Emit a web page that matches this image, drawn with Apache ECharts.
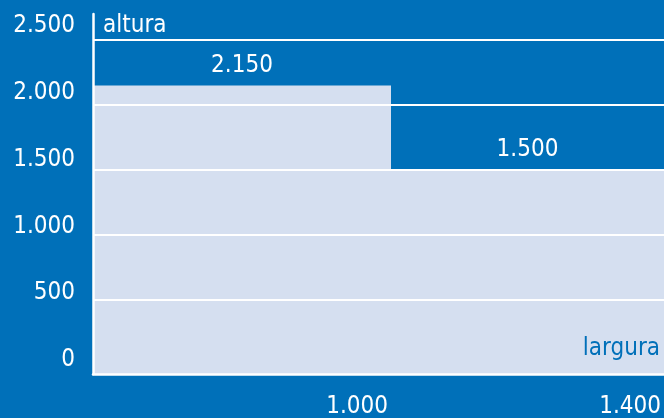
<!DOCTYPE html>
<html>
<head>
<meta charset="utf-8">
<script src="https://cdn.jsdelivr.net/npm/echarts@6/dist/echarts.min.js"></script>
<style>
  html, body { margin: 0; padding: 0; background: #0070b9; }
  #chart { width: 664px; height: 418px; }
</style>
</head>
<body>
<div id="chart"></div>
<script>
// dados
var larguras = [1000, 1400];
var alturas = [2150, 1500];
var rotulosLargura = ['1.000', '1.400'];
var rotulosAltura = ['2.150', '1.500'];
var ticksY = [0, 500, 1000, 1500, 2000, 2500];
var rotulosY = ['0', '500', '1.000', '1.500', '2.000', '2.500'];

var AZUL = '#0070b9';
var CLARO = '#d5dff0';
var FONTE = '"DejaVu Sans Condensed", "Liberation Sans Narrow", sans-serif';

// início acumulado de cada barra
var dados = [];
var x0 = 0;
for (var i = 0; i < larguras.length; i++) {
  dados.push([x0, x0 + larguras[i], alturas[i], i]);
  x0 += larguras[i];
}

var myChart = echarts.init(document.getElementById('chart'));

function renderItem(params, api) {
  var cs = params.coordSys;
  var p0 = api.coord([api.value(0), api.value(2)]);
  var p1 = api.coord([api.value(1), api.value(2)]);
  var base = cs.y + cs.height;
  var xa = Math.round(p0[0]), xb = Math.round(p1[0]);
  var rect = echarts.graphic.clipRectByRect(
    { x: xa, y: p0[1], width: xb - xa, height: base - p0[1] },
    { x: cs.x, y: cs.y, width: cs.width, height: cs.height }
  );
  if (!rect) return;
  var idx = api.value(3);
  return {
    type: 'group',
    children: [
      { type: 'rect', shape: rect, style: { fill: CLARO } },
      {
        type: 'text',
        style: {
          x: rect.x + rect.width / 2, y: rect.y - 8,
          text: rotulosAltura[idx], fill: '#fff',
          font: '24px ' + FONTE, align: 'center', verticalAlign: 'bottom'
        }
      },
      {
        type: 'text',
        style: {
          x: rect.x + rect.width - 3, y: base + 33,
          text: rotulosLargura[idx], fill: '#fff',
          font: '24px ' + FONTE, align: 'right', verticalAlign: 'middle'
        }
      }
    ]
  };
}

var option = {
  backgroundColor: AZUL,
  animation: false,
  textStyle: { fontFamily: FONTE },
  grid: { left: 93, right: 0, top: 14, bottom: 44 },
  xAxis: {
    type: 'value', min: 0, max: 1916, z: 10,
    axisLine: { onZero: false, lineStyle: { color: '#fff', width: 2.5 } },
    axisTick: { show: false }, axisLabel: { show: false }, splitLine: { show: false },
    name: 'largura', nameLocation: 'end', nameGap: -4,
    nameTextStyle: { color: AZUL, fontSize: 24, align: 'right', verticalAlign: 'bottom', padding: [0, 0, 13, 0] }
  },
  yAxis: [{
    type: 'value', min: -69, max: 2700, z: 10,
    axisLine: { show: true, onZero: false, lineStyle: { color: '#fff', width: 2.5 } },
    axisTick: { show: false }, axisLabel: { show: false }, splitLine: { show: false },
    name: 'altura', nameLocation: 'end', nameGap: -12,
    nameTextStyle: { color: '#fff', fontSize: 24, align: 'left', verticalAlign: 'middle', padding: [0, 0, 0, 10] }
  }, {
    // eixo só para os rótulos
    type: 'value', position: 'left', min: -105, max: 2590,
    axisLine: { show: false }, axisTick: { show: false }, splitLine: { show: false },
    axisLabel: {
      customValues: ticksY, color: '#fff', fontSize: 24, margin: 18,
      formatter: function (v) { return rotulosY[ticksY.indexOf(v)]; }
    }
  }],
  series: [{
    type: 'custom',
    z: 2,
    renderItem: renderItem,
    encode: { x: [0, 1], y: 2 },
    data: dados,
    markLine: {
      silent: true, symbol: 'none', animation: false,
      label: { show: false },
      lineStyle: { color: '#fff', width: 2, type: 'solid' },
      data: ticksY.filter(function (v) { return v > 0; }).map(function (v) { return { yAxis: v }; })
    }
  }]
};

myChart.setOption(option);
</script>
</body>
</html>
